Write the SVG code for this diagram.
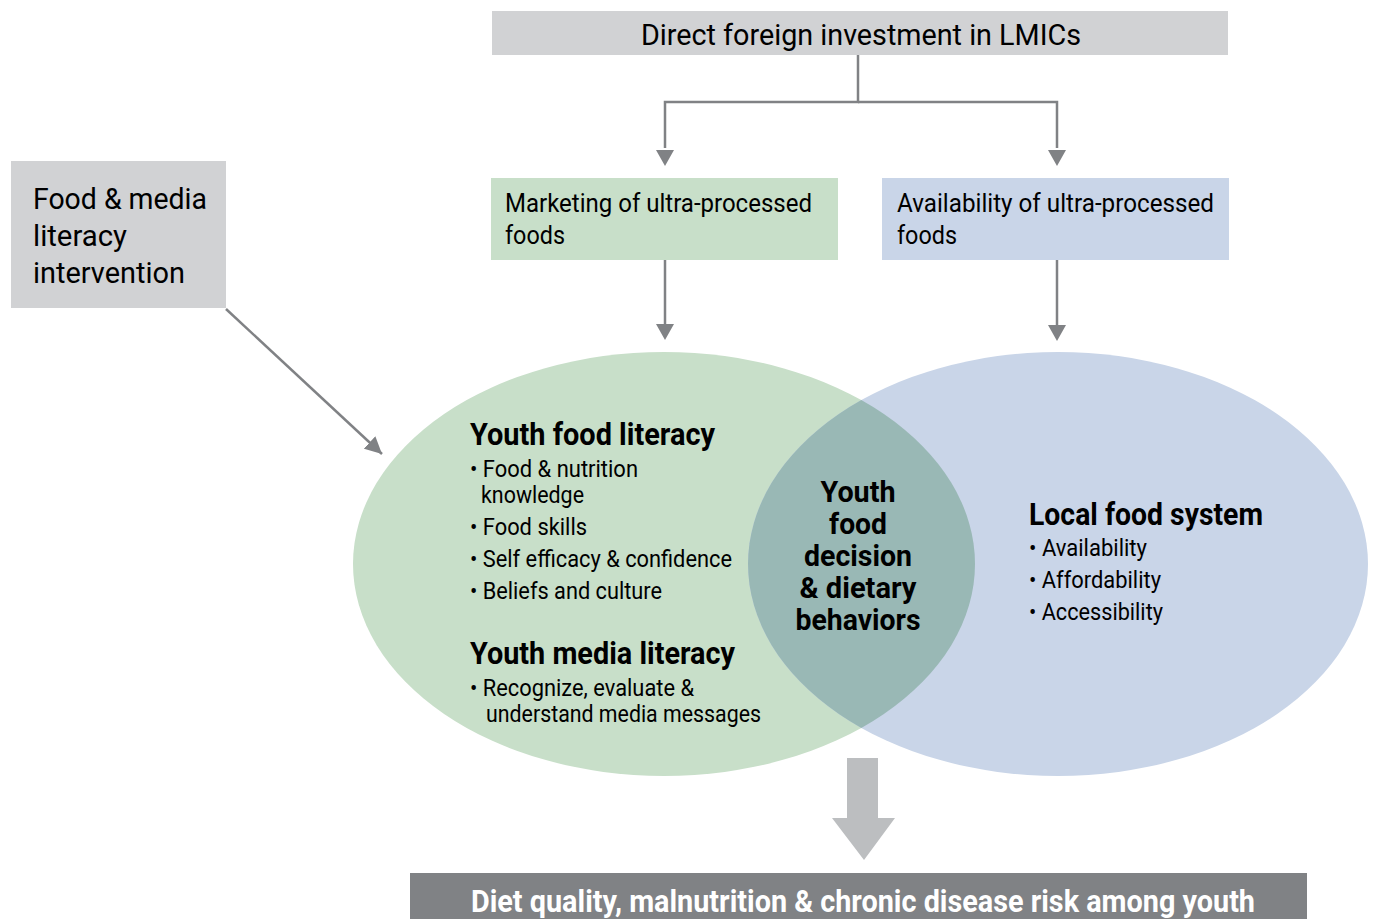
<svg xmlns="http://www.w3.org/2000/svg" width="1375" height="919" viewBox="0 0 1375 919">
<defs>
<style>
text{font-family:Roboto,"Liberation Sans",sans-serif;fill:#000;}
.reg{font-size:30px;}
.mid{font-size:26px;}
.sm{font-size:23px;}
.b{font-weight:bold;font-size:31px;}
.c{font-weight:bold;font-size:29px;}
.conn{stroke:#808285;stroke-width:2.5;fill:none;}
</style>
<marker id="ah2" viewBox="0 0 10 10" refX="10" refY="5" markerWidth="17" markerHeight="17" orient="auto" markerUnits="userSpaceOnUse">
<path d="M0,0 L10,5 L0,10 z" fill="#808285"/>
</marker>
<clipPath id="cg"><ellipse cx="664" cy="564" rx="311" ry="212"/></clipPath>
</defs>

<g id="venn">
<ellipse cx="664" cy="564" rx="311" ry="212" fill="#c8dfc9"/>
<ellipse cx="1058" cy="564" rx="310" ry="212" fill="#c9d5e8"/>
<ellipse cx="1058" cy="564" rx="310" ry="212" fill="#99b8b5" clip-path="url(#cg)"/>
</g>

<g id="connectors">
<path class="conn" d="M858,55 V102 H665 V148"/>
<path class="conn" d="M858,102 H1057 V148"/>
<path d="M656,150 L674,150 L665,166 z" fill="#808285"/>
<path d="M1048,150 L1066,150 L1057,166 z" fill="#808285"/>
<path class="conn" d="M665,260 V324"/>
<path d="M656,324 L674,324 L665,340 z" fill="#808285"/>
<path class="conn" d="M1057,260 V325"/>
<path d="M1048,325 L1066,325 L1057,341 z" fill="#808285"/>
<path class="conn" d="M226,309 L382,454" marker-end="url(#ah2)"/>
<path d="M847,758 H878 V818 H895 L864,860 L832,818 H847 z" fill="#bcbec0"/>
</g>

<g id="top">
<rect x="492" y="11" width="736" height="44" fill="#d1d2d4"/>
<text class="reg" x="641" y="45" textLength="440" lengthAdjust="spacingAndGlyphs">Direct foreign investment in LMICs</text>
</g>

<g id="marketing">
<rect x="491" y="178" width="347" height="82" fill="#c8dfc9"/>
<text class="mid" x="505" y="212" textLength="307" lengthAdjust="spacingAndGlyphs">Marketing of ultra-processed</text>
<text class="mid" x="505" y="244" textLength="60" lengthAdjust="spacingAndGlyphs">foods</text>
</g>

<g id="availability">
<rect x="882" y="178" width="347" height="82" fill="#c9d5e8"/>
<text class="mid" x="897" y="212" textLength="317" lengthAdjust="spacingAndGlyphs">Availability of ultra-processed</text>
<text class="mid" x="897" y="244" textLength="60" lengthAdjust="spacingAndGlyphs">foods</text>
</g>

<g id="intervention">
<rect x="11" y="161" width="215" height="147" fill="#d1d2d4"/>
<text class="reg" x="33" y="209" textLength="174" lengthAdjust="spacingAndGlyphs">Food &amp; media</text>
<text class="reg" x="33" y="246" textLength="94" lengthAdjust="spacingAndGlyphs">literacy</text>
<text class="reg" x="33" y="283" textLength="152" lengthAdjust="spacingAndGlyphs">intervention</text>
</g>

<g id="food-literacy">
<text class="b" x="470" y="445" textLength="245" lengthAdjust="spacingAndGlyphs">Youth food literacy</text>
<text class="sm" x="470" y="477" textLength="168" lengthAdjust="spacingAndGlyphs">• Food &amp; nutrition</text>
<text class="sm" x="481" y="503" textLength="103" lengthAdjust="spacingAndGlyphs">knowledge</text>
<text class="sm" x="470" y="535" textLength="117" lengthAdjust="spacingAndGlyphs">• Food skills</text>
<text class="sm" x="470" y="567" textLength="262" lengthAdjust="spacingAndGlyphs">• Self efficacy &amp; confidence</text>
<text class="sm" x="470" y="599" textLength="192" lengthAdjust="spacingAndGlyphs">• Beliefs and culture</text>
</g>

<g id="media-literacy">
<text class="b" x="470" y="664" textLength="265" lengthAdjust="spacingAndGlyphs">Youth media literacy</text>
<text class="sm" x="470" y="696" textLength="224" lengthAdjust="spacingAndGlyphs">• Recognize, evaluate &amp;</text>
<text class="sm" x="486" y="722" textLength="275" lengthAdjust="spacingAndGlyphs">understand media messages</text>
</g>

<g id="decision">
<text class="c" x="858" y="502" text-anchor="middle" textLength="75" lengthAdjust="spacingAndGlyphs">Youth</text>
<text class="c" x="858" y="534" text-anchor="middle" textLength="58" lengthAdjust="spacingAndGlyphs">food</text>
<text class="c" x="858" y="566" text-anchor="middle" textLength="108" lengthAdjust="spacingAndGlyphs">decision</text>
<text class="c" x="858" y="598" text-anchor="middle" textLength="117" lengthAdjust="spacingAndGlyphs">&amp; dietary</text>
<text class="c" x="858" y="630" text-anchor="middle" textLength="125" lengthAdjust="spacingAndGlyphs">behaviors</text>
</g>

<g id="local-food">
<text class="b" x="1029" y="525" textLength="234" lengthAdjust="spacingAndGlyphs">Local food system</text>
<text class="sm" x="1029" y="556" textLength="118" lengthAdjust="spacingAndGlyphs">• Availability</text>
<text class="sm" x="1029" y="588" textLength="132" lengthAdjust="spacingAndGlyphs">• Affordability</text>
<text class="sm" x="1029" y="620" textLength="134" lengthAdjust="spacingAndGlyphs">• Accessibility</text>
</g>

<g id="outcome">
<rect x="410" y="873" width="897" height="50" fill="#808285"/>
<text class="b" x="471" y="912" style="fill:#fff" textLength="784" lengthAdjust="spacingAndGlyphs">Diet quality, malnutrition &amp; chronic disease risk among youth</text>
</g>
</svg>
